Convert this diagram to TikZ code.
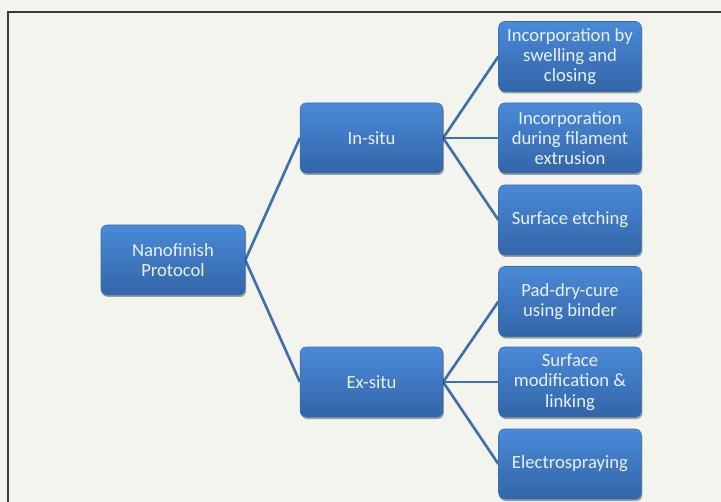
\documentclass[tikz,border=0pt]{standalone}
\usepackage{fontspec}
\setmainfont{Carlito}
\usetikzlibrary{shadows,backgrounds}
\definecolor{bg}{HTML}{F4F4EF}
\definecolor{frame}{HTML}{3A3A3A}
\definecolor{boxtop}{HTML}{4A8AD8}
\definecolor{boxbot}{HTML}{3365A8}
\definecolor{boxedge}{HTML}{3A6CB0}
\definecolor{conn}{HTML}{4170A8}
\definecolor{txt}{HTML}{EAF0F8}
\tikzset{
  pbox/.style={rectangle, rounded corners=4.5pt, top color=boxtop, bottom color=boxbot,
    draw=boxedge, line width=0.4pt, minimum width=107pt, minimum height=52.5pt,
    inner sep=1pt, align=center, text=txt,
    font=\fontsize{14}{15.2}\selectfont,
    drop shadow={shadow xshift=0.8pt, shadow yshift=-1.5pt, fill=black, opacity=0.35}},
  conline/.style={draw=conn, line width=2pt}
}
\begin{document}
\begin{tikzpicture}[x=0.75pt,y=-0.75pt]
\useasboundingbox (0,0) rectangle (721,502);
\node[pbox, minimum width=108pt] (nano) at (173,260) {Nanofinish\\Protocol};
\node[pbox] (insitu) at (371.5,138) {In-situ};
\node[pbox] (exsitu) at (371.5,382) {Ex-situ};
\node[pbox] (r1) at (570,56.5) {Incorporation by\\swelling and\\closing};
\node[pbox] (r2) at (570,138) {Incorporation\\during filament\\extrusion};
\node[pbox] (r3) at (570,220) {Surface etching};
\node[pbox] (r4) at (570,301.5) {Pad-dry-cure\\using binder};
\node[pbox] (r5) at (570,382) {Surface\\modification \&\\linking};
\node[pbox] (r6) at (570,464) {Electrospraying};
\begin{scope}[on background layer]
\fill[bg] (0,0) rectangle (721,502);
\draw[frame, line width=0.9pt] (8,502) -- (8,12) -- (721,12);
\draw[conline] (nano.east) -- (insitu.west);
\draw[conline] (nano.east) -- (exsitu.west);
\draw[conline] (insitu.east) -- (r1.west);
\draw[conline] (insitu.east) -- (r2.west);
\draw[conline] (insitu.east) -- (r3.west);
\draw[conline] (exsitu.east) -- (r4.west);
\draw[conline] (exsitu.east) -- (r5.west);
\draw[conline] (exsitu.east) -- (r6.west);
\end{scope}
\end{tikzpicture}
\end{document}
